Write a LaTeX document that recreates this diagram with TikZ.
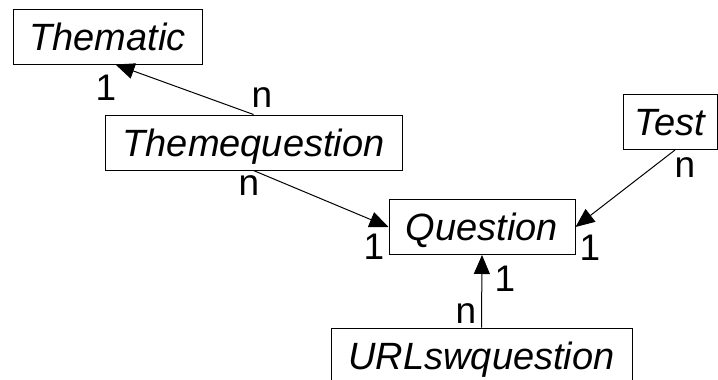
\documentclass[tikz,border=0pt]{standalone}
\usepackage{fontspec}
\setmainfont{Liberation Sans}
\usetikzlibrary{arrows.meta}
\begin{document}
\begin{tikzpicture}[x=1pt,y=-1pt,line width=1pt,
  entity/.style={draw,inner sep=0pt,minimum height=55pt,text height=27pt,text depth=0pt,
    font=\fontsize{38}{45}\selectfont\itshape},
  card/.style={inner sep=0pt,font=\fontsize{37}{44}\selectfont},
  assoc/.style={-{Triangle[length=19pt,width=16pt]}}]
\useasboundingbox (0,0) rectangle (718,380);
\node[entity,minimum width=189pt] (thematic) at (107.5,36.5) {Thematic};
\node[entity,minimum width=297pt] (themeq) at (253.5,142.5) {Themequestion};
\node[entity,minimum width=94pt] (test) at (670,122) {Test};
\node[entity,minimum width=186pt] (question) at (482,227) {Question};
\node[entity,minimum width=301pt] (urlq) at (481.5,355.5) {URLswquestion};
\foreach \n/\x/\y/\t in {c1/106/88/1, c2/262/98/n, c3/249/186/n, c4/374/247/1,
                         c5/590/248/1, c6/505/279/1, c7/466/314/n, c8/685/168/n}
  \node[card] (\n) at (\x,\y) {\t};
\draw[assoc] (themeq.north) -- ([xshift=8pt]thematic.south);
\draw[assoc] (themeq.south) -- (question.west);
\draw[assoc] ([xshift=5pt]test.south) -- (question.east);
\draw[assoc] (urlq.north) -- (question.south);
\end{tikzpicture}
\end{document}
